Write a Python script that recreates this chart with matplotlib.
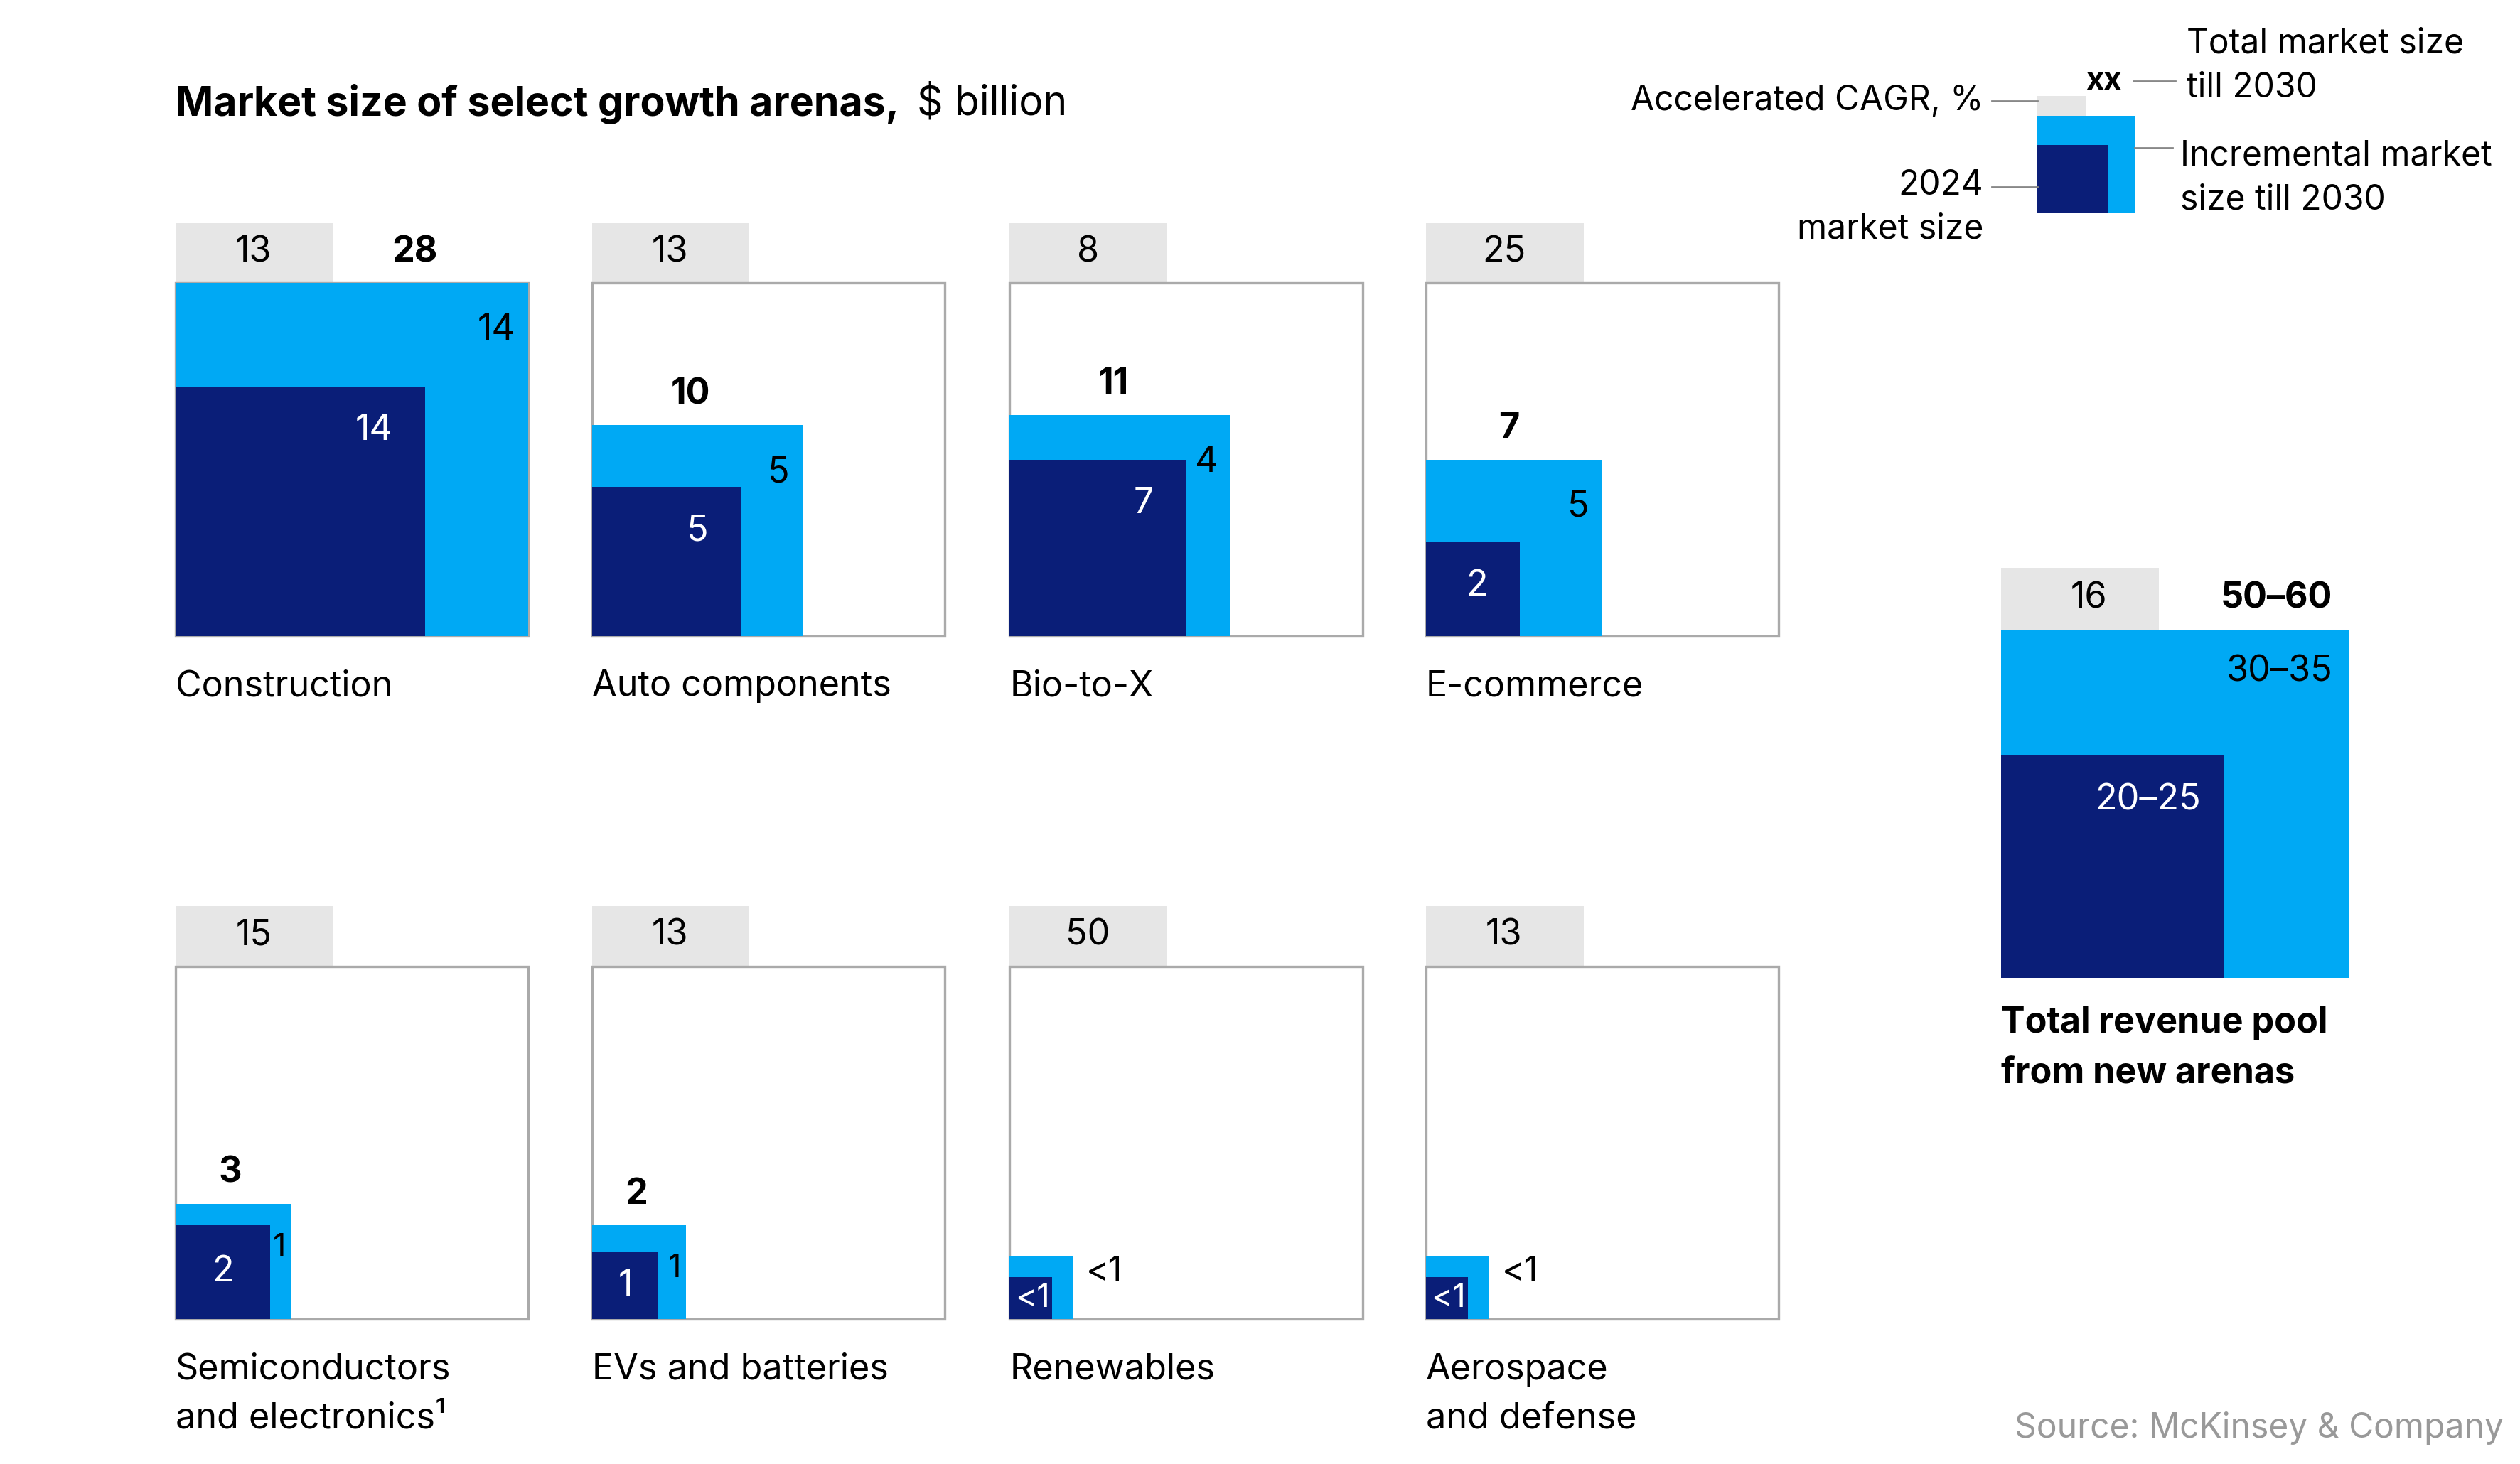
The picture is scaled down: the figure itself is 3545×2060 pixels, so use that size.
import numpy as np
import matplotlib.pyplot as plt
from matplotlib.patches import Rectangle

plt.rcParams['font.family'] = ['Inter', 'DejaVu Sans']

# data
arenas = ["Construction", "Auto components", "Bio-to-X", "E-commerce",
          "Semiconductors\nand electronics¹", "EVs and batteries", "Renewables", "Aerospace\nand defense"]
cagr = ["13", "13", "8", "25", "15", "13", "50", "13"]
base_2024 = [14, 5, 7, 2, 2, 1, 0.4, 0.4]
total_2030 = [28, 10, 11, 7, 3, 2, 0.9, 0.9]
base_lbl = ["14", "5", "7", "2", "2", "1", "<1", "<1"]
inc_lbl = ["14", "5", "4", "5", "1", "1", "<1", "<1"]
total_lbl = ["28", "10", "11", "7", "3", "2", "", ""]

pool_cagr = "16"
pool_base, pool_total = 22.5, 55
pool_base_lbl, pool_inc_lbl, pool_total_lbl = "20–25", "30–35", "50–60"

DARK = "#0a1e78"
LIGHT = "#00a9f4"
GREY = "#e6e6e6"

def fs(px):
    return px * 3545 / 1550 * 72 / 200

fig = plt.figure(figsize=(17.725, 10.3), dpi=200)
ax = fig.add_axes([0, 0, 1, 1])
ax.set_xlim(0, 1550)
ax.set_ylim(900, 0)
ax.axis('off')

ax.text(108, 64, "Market size of select growth arenas,", fontsize=fs(25), fontweight='bold', va='center')
ax.text(564, 64, "$ billion", fontsize=fs(25), va='center')

BOX = 217
lefts = [108, 364, 621, 877]
tops = [174, 594]
scale_max = max(total_2030)

for i, name in enumerate(arenas):
    x0 = lefts[i % 4]
    top = tops[i // 4]
    bottom = top + BOX
    ax.add_patch(Rectangle((x0, top - 37), 97, 37, color=GREY, lw=0))
    ax.text(x0 + 48, top - 19, cagr[i], fontsize=fs(22), ha='center', va='center')
    ax.add_patch(Rectangle((x0, top), BOX, BOX, fill=False, ec="#aaaaaa", lw=1.2))
    st = BOX * np.sqrt(total_2030[i] / scale_max)
    sb = BOX * np.sqrt(base_2024[i] / scale_max)
    ax.add_patch(Rectangle((x0, bottom - st), st, st, color=LIGHT, lw=0))
    ax.add_patch(Rectangle((x0, bottom - sb), sb, sb, color=DARK, lw=0))
    if total_lbl[i]:
        lx = x0 + (147 if st >= BOX - 1 else 0.47 * st)
        ly = top - 19 if st >= BOX - 1 else bottom - st - 19
        ax.text(lx, ly, total_lbl[i], fontsize=fs(22), fontweight='bold', ha='center', va='center')
    if st > 100:
        ax.text(x0 + st - 8, bottom - st + 29, inc_lbl[i], fontsize=fs(22), ha='right', va='center')
        ax.text(x0 + sb - 20, bottom - sb + 27, base_lbl[i], fontsize=fs(22), ha='right', va='center', color='white')
    elif st > 50:
        ax.text(x0 + st - 7, bottom - st + 27, inc_lbl[i], fontsize=fs(20), ha='center', va='center')
        ax.text(x0 + sb / 2, bottom - sb / 2, base_lbl[i], fontsize=fs(22), ha='center', va='center', color='white')
    else:
        ax.text(x0 + st + 8, bottom - st + 10, inc_lbl[i], fontsize=fs(21), ha='left', va='center')
        ax.text(x0 + sb / 2 + 1, bottom - sb / 2, base_lbl[i], fontsize=fs(20), ha='center', va='center', color='white')
    lines = name.split("\n")
    for j, ln in enumerate(lines):
        ax.text(x0, bottom + 31 + j * 30, ln, fontsize=fs(22), ha='left', va='center')

# total revenue pool
px0, ptop, PBOX = 1231, 387, 214
ax.add_patch(Rectangle((px0, ptop - 38), 97, 38, color=GREY, lw=0))
ax.text(px0 + 54, ptop - 19, pool_cagr, fontsize=fs(22), ha='center', va='center')
ax.add_patch(Rectangle((px0, ptop), PBOX, PBOX, color=LIGHT, lw=0))
sb = PBOX * np.sqrt(pool_base / pool_total)
ax.add_patch(Rectangle((px0, ptop + PBOX - sb), sb, sb, color=DARK, lw=0))
ax.text(1400, ptop - 19, pool_total_lbl, fontsize=fs(22), fontweight='bold', ha='center', va='center')
ax.text(px0 + PBOX - 10, ptop + 26, pool_inc_lbl, fontsize=fs(22), ha='right', va='center')
ax.text(px0 + sb - 14, ptop + PBOX - sb + 28, pool_base_lbl, fontsize=fs(22), ha='right', va='center', color='white')
ax.text(px0, 629, "Total revenue pool", fontsize=fs(22), fontweight='bold', va='center')
ax.text(px0, 660, "from new arenas", fontsize=fs(22), fontweight='bold', va='center')

# legend
ax.add_patch(Rectangle((1253, 59), 30, 13, color=GREY, lw=0))
ax.add_patch(Rectangle((1253, 71), 60, 60, color=LIGHT, lw=0))
ax.add_patch(Rectangle((1253, 89), 44, 42, color=DARK, lw=0))
ax.text(1294, 50, "xx", fontsize=fs(19), fontweight='bold', ha='center', va='center')
lc = "#888888"
ax.plot([1312, 1338], [50, 50], color=lc, lw=1)
ax.text(1345, 27, "Total market size", fontsize=fs(21), va='center')
ax.text(1345, 54, "till 2030", fontsize=fs(21), va='center')
ax.plot([1225, 1253], [62, 62], color=lc, lw=1)
ax.text(1220, 62, "Accelerated CAGR, %", fontsize=fs(21), ha='right', va='center')
ax.plot([1225, 1253], [115, 115], color=lc, lw=1)
ax.text(1220, 114, "2024", fontsize=fs(21), ha='right', va='center')
ax.text(1220, 141, "market size", fontsize=fs(21), ha='right', va='center')
ax.plot([1313, 1336], [91, 91], color=lc, lw=1)
ax.text(1341, 96, "Incremental market", fontsize=fs(21), va='center')
ax.text(1341, 123, "size till 2030", fontsize=fs(21), va='center')

ax.text(1540, 878, "Source: McKinsey & Company", fontsize=fs(21), ha='right', va='center', color="#999999")

fig.savefig("out.png", dpi=200)
